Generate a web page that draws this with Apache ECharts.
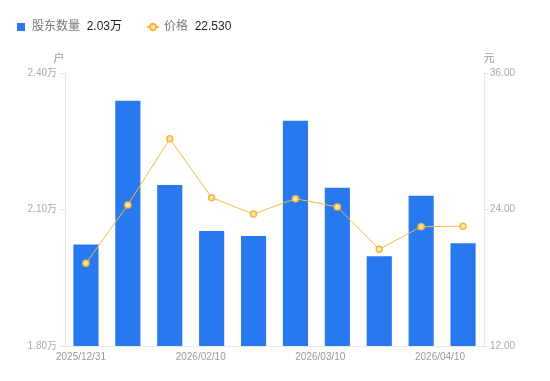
<!DOCTYPE html>
<html><head><meta charset="utf-8">
<script src="https://cdn.jsdelivr.net/npm/echarts@6/dist/echarts.min.js"></script>
<style>html,body{margin:0;padding:0;background:#fff}#c{width:550px;height:381px}</style>
</head><body><div id="c"></div>
<script>
const categories = ['2025/12/31','2026/01/10','2026/01/20','2026/02/10','2026/02/20','2026/02/28','2026/03/10','2026/03/20','2026/03/31','2026/04/10'];
const holders = [2.023, 2.339, 2.154, 2.053, 2.042, 2.295, 2.148, 1.997, 2.130, 2.026];
const prices = [19.27, 24.40, 30.22, 25.04, 23.60, 24.95, 24.22, 20.50, 22.49, 22.53];
const xTickLabels = ['2025/12/31','2026/02/10','2026/03/10','2026/04/10'];
const leftTicks = {min: 1.8, max: 2.4, interval: 0.3};
const rightTicks = {min: 12, max: 36, interval: 12};

const FF = "Arial, 'Liberation Sans', 'Noto Sans CJK SC', sans-serif";
const chart = echarts.init(document.getElementById('c'), null, {renderer: 'canvas'});
const lastH = holders[holders.length-1].toFixed(2) + '万';
const lastP = prices[prices.length-1].toFixed(3);
chart.setOption({
  animation: false,
  textStyle: {fontFamily: FF},
  legend: {
    left: 12, top: 16, itemGap: 24, itemWidth: 12, itemHeight: 8,
    data: [{name: '股东数量', icon: 'path://M0,0h8v8h-8z'}, {name: '价格'}],
    formatter: function (n) {
      return '{n|' + n + '}  {v|' + (n === '股东数量' ? lastH : lastP) + '}';
    },
    textStyle: {
      fontFamily: FF,
      rich: {
        n: {color: '#777', fontSize: 12, fontFamily: FF},
        v: {color: '#222', fontSize: 12, fontFamily: FF}
      }
    }
  },
  grid: [
    {left: 65, right: 66, top: 73, bottom: 35},
    {left: 81, right: 110, top: 73, bottom: 35}
  ],
  xAxis: [
    {type: 'category', gridIndex: 0, data: categories,
      axisLine: {lineStyle: {color: '#e8e8e8'}}, axisTick: {show: false},
      axisLabel: {show: false}},
    {type: 'category', gridIndex: 1, data: xTickLabels, boundaryGap: false,
      axisLine: {show: false}, axisTick: {show: false},
      axisLabel: {color: '#999', fontSize: 10, margin: 6, interval: 0, fontFamily: FF}}
  ],
  yAxis: [
    {type: 'value', gridIndex: 0, min: leftTicks.min, max: leftTicks.max, interval: leftTicks.interval,
      name: '户', nameGap: 9, nameTextStyle: {color: '#999', fontSize: 11, padding: [0, 12, 0, 0]},
      axisLine: {show: true, lineStyle: {color: '#e8e8e8'}},
      axisTick: {show: true, length: 4, lineStyle: {color: '#e0e0e0'}},
      splitLine: {show: false},
      axisLabel: {color: '#aaa', fontSize: 10, margin: 8, formatter: v => v.toFixed(2) + '万'}},
    {type: 'value', gridIndex: 0, position: 'right', min: rightTicks.min, max: rightTicks.max, interval: rightTicks.interval,
      name: '元', nameGap: 9, nameTextStyle: {color: '#999', fontSize: 11, padding: [0, 0, 0, 10]},
      axisLine: {show: true, lineStyle: {color: '#e8e8e8'}},
      axisTick: {show: true, length: 4, lineStyle: {color: '#e0e0e0'}},
      splitLine: {show: false},
      axisLabel: {color: '#aaa', fontSize: 10, margin: 6, formatter: v => v.toFixed(2)}},
    {type: 'value', gridIndex: 1, show: false}
  ],
  series: [
    {name: '股东数量', type: 'bar', xAxisIndex: 0, yAxisIndex: 0, data: holders,
      barWidth: '60%', itemStyle: {color: '#2878f0'}},
    {name: '价格', type: 'line', xAxisIndex: 0, yAxisIndex: 1, data: prices,
      symbol: 'circle', symbolSize: 6,
      lineStyle: {color: '#f5b83d', width: 1},
      itemStyle: {color: '#fbe6a8', borderColor: '#f5b83d', borderWidth: 1.5}}
  ]
});
</script></body></html>
